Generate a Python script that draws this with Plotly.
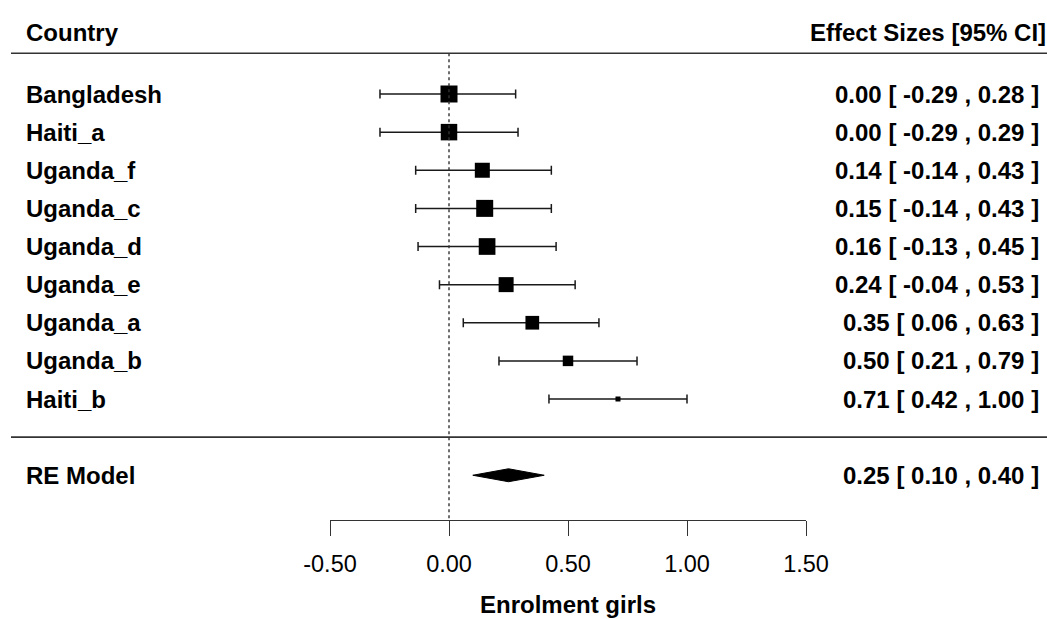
import plotly.graph_objects as go

# ---- data ----
countries = ["Bangladesh", "Haiti_a", "Uganda_f", "Uganda_c", "Uganda_d",
             "Uganda_e", "Uganda_a", "Uganda_b", "Haiti_b"]
estimates = [0.00, 0.00, 0.14, 0.15, 0.16, 0.24, 0.35, 0.50, 0.71]
ci_lower = [-0.29, -0.29, -0.14, -0.14, -0.13, -0.04, 0.06, 0.21, 0.42]
ci_upper = [0.28, 0.29, 0.43, 0.43, 0.45, 0.53, 0.63, 0.79, 1.00]
square_sizes = [17, 16.5, 15, 17, 16.7, 15, 13.7, 10.5, 5]  # relative weights shown as marker size

re_label = "RE Model"
re_est, re_lo, re_hi = 0.25, 0.10, 0.40

tick_vals = [-0.5, 0.0, 0.5, 1.0, 1.5]
tick_text = ["-0.50", "0.00", "0.50", "1.00", "1.50"]
x_title = "Enrolment girls"
left_header = "Country"
right_header = "Effect Sizes [95% CI]"
ref_value = 0.0

# ---- layout constants ----
W, H = 1047, 619
FONT = "Liberation Sans, Arial, sans-serif"
k = len(countries)
rows = list(range(k, 0, -1))
re_row = -1
dia_h = 0.17

x_left_px, x_right_px = 330, 806
y_axis_px = 520
row_top_px, row_bot_px = 94, 399
px_per_row = (row_bot_px - row_top_px) / (k - 1)
y_lo = k - (y_axis_px - row_top_px) / px_per_row
y_hi = k + row_top_px / px_per_row

fig = go.Figure()

fig.add_trace(go.Scatter(
    x=estimates, y=rows, mode="markers",
    marker=dict(symbol="square", size=square_sizes, color="black", opacity=1, line=dict(width=0)),
    error_x=dict(type="data", symmetric=False,
                 array=[u - e for u, e in zip(ci_upper, estimates)],
                 arrayminus=[e - l for e, l in zip(estimates, ci_lower)],
                 color="#1a1a1a", thickness=1.5, width=4.5),
    showlegend=False, hoverinfo="skip",
))

fig.add_trace(go.Scatter(
    x=[re_lo, re_est, re_hi, re_est, re_lo],
    y=[re_row, re_row + dia_h, re_row, re_row - dia_h, re_row],
    mode="lines", fill="toself", fillcolor="black",
    line=dict(color="black", width=1), showlegend=False, hoverinfo="skip",
))

annotations = []
bold = dict(family=FONT, size=24, color="black", weight="bold")
for name, r, e, l, u in zip(countries, rows, estimates, ci_lower, ci_upper):
    annotations.append(dict(x=24 / W, y=r, xref="paper", yref="y", text=name,
                            xanchor="left", yanchor="middle", showarrow=False, font=bold))
    annotations.append(dict(x=1041 / W, y=r, xref="paper", yref="y",
                            text=f"{e:.2f} [ {l:.2f} , {u:.2f} ]".replace(" ", "&nbsp;"),
                            xanchor="right", yanchor="middle", showarrow=False, font=bold))
annotations.append(dict(x=24 / W, y=re_row, xref="paper", yref="y", text=re_label,
                        xanchor="left", yanchor="middle", showarrow=False, font=bold))
annotations.append(dict(x=1041 / W, y=re_row, xref="paper", yref="y",
                        text=f"{re_est:.2f} [ {re_lo:.2f} , {re_hi:.2f} ]".replace(" ", "&nbsp;"),
                        xanchor="right", yanchor="middle", showarrow=False, font=bold))
header_row = k + 1.61
annotations.append(dict(x=24 / W, y=header_row, xref="paper", yref="y", text=left_header,
                        xanchor="left", yanchor="middle", showarrow=False, font=bold))
annotations.append(dict(x=1048 / W, y=header_row, xref="paper", yref="y", text=right_header,
                        xanchor="right", yanchor="middle", showarrow=False, font=bold))
annotations.append(dict(x=(x_left_px + x_right_px) / 2 / W, y=(H - 604) / H, xref="paper", yref="paper",
                        text=x_title, xanchor="center", yanchor="middle", showarrow=False,
                        font=dict(family=FONT, size=24, color="black", weight="bold")))

shapes = [
    dict(type="line", xref="paper", yref="y", x0=11 / W, x1=1.0, y0=k + 1.07, y1=k + 1.07,
         line=dict(color="#333333", width=1.6)),
    dict(type="line", xref="paper", yref="y", x0=11 / W, x1=1.0, y0=0, y1=0,
         line=dict(color="#333333", width=1.6)),
    dict(type="line", xref="x", yref="y", x0=ref_value, x1=ref_value, y0=k + 1.07, y1=y_lo,
         line=dict(color="#333333", width=1.4, dash="dot")),
]

fig.update_layout(
    width=W, height=H, autosize=False,
    margin=dict(l=0, r=0, t=0, b=0, pad=0, autoexpand=False),
    paper_bgcolor="white", plot_bgcolor="white",
    showlegend=False,
    xaxis=dict(domain=[x_left_px / W, x_right_px / W], range=[-0.5, 1.5],
               showgrid=False, zeroline=False, showline=True, linecolor="#333333", linewidth=1.4,
               ticks="outside", ticklen=15, tickwidth=1.4, tickcolor="#333333",
               tickvals=tick_vals, ticktext=tick_text, ticklabelstandoff=8,
               tickfont=dict(family=FONT, size=23.5, color="black")),
    yaxis=dict(domain=[(H - y_axis_px) / H, 1], range=[y_lo, y_hi],
               showgrid=False, zeroline=False, showline=False, showticklabels=False, ticks=""),
    annotations=annotations,
    shapes=shapes,
)

fig.write_html(
    "out.html",
    config={"responsive": False, "displayModeBar": False},
    post_script="document.body.style.margin='0';document.body.style.overflow='hidden';",
)
